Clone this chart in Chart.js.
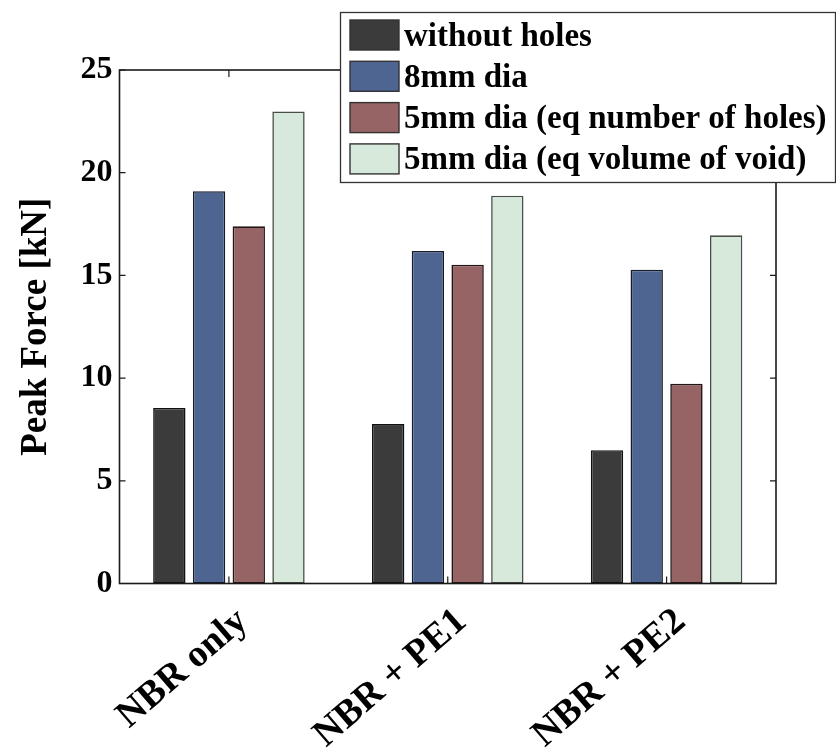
<!DOCTYPE html>
<html>
<head>
<meta charset="utf-8">
<script src="https://cdn.jsdelivr.net/npm/chart.js@4/dist/chart.umd.min.js"></script>
<style>
  html, body { margin: 0; padding: 0; background: #fff; }
  #wrap { width: 836px; height: 755px; }
</style>
</head>
<body>
<div id="wrap"><canvas id="forceChart" width="836" height="755"></canvas></div>
<script>
const categories = ['NBR only', 'NBR + PE1', 'NBR + PE2'];
const seriesNames = ['without holes', '8mm dia', '5mm dia (eq number of holes)', '5mm dia (eq volume of void)'];
const withoutHoles = [8.55, 7.76, 6.49];
const dia8mm = [19.10, 16.19, 15.28];
const dia5mmHoles = [17.39, 15.52, 9.72];
const dia5mmVoid = [22.98, 18.88, 16.95];
const yTicks = [0, 5, 10, 15, 20, 25];

const fills = ['#3b3b3b', '#4e6591', '#966464', '#d7e9db'];
const edges = ['#111111', '#161b2b', '#241616', '#4a4e4a'];
const serif = '"Liberation Serif", "Times New Roman", serif';

// box round the plot, with inward ticks on all four sides
const framePlugin = {
  id: 'frame',
  afterDatasetsDraw(chart) {
    const { ctx, chartArea: a, scales: { x, y } } = chart;
    ctx.save();
    ctx.strokeStyle = '#1a1a1a';
    ctx.lineWidth = 1.6;
    ctx.strokeRect(a.left, a.top, a.right - a.left, a.bottom - a.top);
    ctx.lineWidth = 1.2;
    ctx.beginPath();
    y.ticks.forEach((t, i) => {
      const py = y.getPixelForTick(i);
      ctx.moveTo(a.left, py); ctx.lineTo(a.left + 6, py);
      ctx.moveTo(a.right, py); ctx.lineTo(a.right - 6, py);
    });
    x.ticks.forEach((t, i) => {
      const px = x.getPixelForTick(i);
      ctx.moveTo(px, a.top); ctx.lineTo(px, a.top + 7);
      ctx.moveTo(px, a.bottom); ctx.lineTo(px, a.bottom - 7);
    });
    ctx.stroke();
    ctx.restore();
  }
};

// boxed legend sitting over the top right of the plot
const legendBox = {
  id: 'legendBox',
  afterDraw(chart) {
    const ctx = chart.ctx;
    const x0 = 340.5, y0 = 12.5, w = 495, h = 170;
    ctx.save();
    ctx.fillStyle = '#fff';
    ctx.fillRect(x0, y0, w, h);
    ctx.strokeStyle = '#333';
    ctx.lineWidth = 1.3;
    ctx.strokeRect(x0, y0, w, h);
    ctx.font = 'bold 33px ' + serif;
    ctx.textBaseline = 'middle';
    ctx.textAlign = 'left';
    chart.data.datasets.forEach((ds, i) => {
      const top = 20 + i * 41.3;
      ctx.fillStyle = ds.backgroundColor;
      ctx.fillRect(350, top, 49, 30);
      ctx.strokeStyle = '#333';
      ctx.lineWidth = 1.4;
      ctx.strokeRect(350, top, 49, 30);
      ctx.fillStyle = '#000';
      ctx.fillText(ds.label, 404, top + 17);
    });
    ctx.restore();
  }
};

const seriesValues = [withoutHoles, dia8mm, dia5mmHoles, dia5mmVoid];

new Chart(document.getElementById('forceChart'), {
  type: 'bar',
  data: {
    labels: categories,
    datasets: seriesValues.map((vals, i) => ({
      label: seriesNames[i],
      data: vals,
      backgroundColor: fills[i],
      borderColor: edges[i],
      borderWidth: 1.6,
      borderSkipped: false,
      categoryPercentage: 0.726,
      barPercentage: 0.815
    }))
  },
  options: {
    responsive: false,
    animation: false,
    devicePixelRatio: 1,
    layout: { padding: { top: 70, right: 60, left: 0, bottom: 0 } },
    plugins: { legend: { display: false }, tooltip: { enabled: false } },
    scales: {
      x: {
        grid: { display: false, drawTicks: false },
        border: { display: false },
        afterFit(scale) { scale.height = 171.5; },
        ticks: {
          autoSkip: false,
          minRotation: 41,
          maxRotation: 41,
          padding: 16,
          labelOffset: 14,
          color: '#000',
          font: { family: serif, size: 38, weight: 'bold' }
        }
      },
      y: {
        min: 0,
        max: 25,
        grid: { display: false, drawTicks: false },
        border: { display: false },
        afterFit(scale) { scale.width = 119.5; },
        afterBuildTicks(scale) { scale.ticks = yTicks.map(v => ({ value: v })); },
        ticks: {
          padding: 7,
          color: '#000',
          font: { family: serif, size: 32, weight: 'bold' }
        },
        title: {
          display: true,
          text: 'Peak Force [kN]',
          color: '#000',
          padding: { top: 14, bottom: 0 },
          font: { family: serif, size: 37, weight: 'bold' }
        }
      }
    }
  },
  plugins: [framePlugin, legendBox]
});
</script>
</body>
</html>
